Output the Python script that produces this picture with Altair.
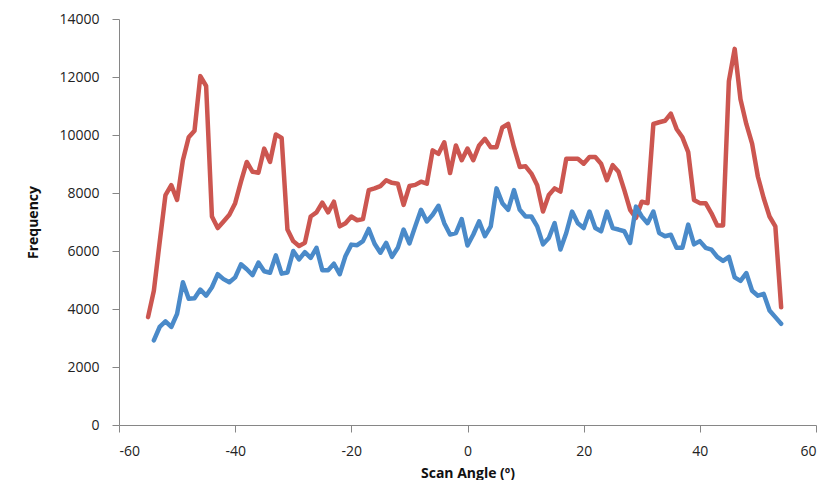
import altair as alt
import pandas as pd

# Scan angle (degrees) and frequency for each series
angles_red = list(range(-55, 55))
freq_red = [
    3720, 4630, 6300, 7930, 8270, 7760, 9130, 9920, 10150, 12030,
    11690, 7190, 6790, 7020, 7250, 7650, 8390, 9070, 8730, 8700,
    9530, 9070, 10020, 9900, 6740, 6340, 6170, 6280, 7190, 7330,
    7670, 7330, 7700, 6850, 6960, 7190, 7060, 7100, 8100, 8160,
    8240, 8440, 8350, 8320, 7590, 8240, 8280, 8390, 8320, 9470,
    9350, 9750, 8690, 9640, 9130, 9530, 9130, 9640, 9870, 9580,
    9580, 10260, 10380, 9580, 8900, 8920, 8670, 8270, 7360, 7930,
    8160, 8050, 9180, 9180, 9180, 9010, 9240, 9240, 9010, 8440,
    8960, 8730, 8100, 7420, 7140, 7700, 7650, 10380, 10440, 10490,
    10740, 10210, 9920, 9410, 7760, 7650, 7650, 7300, 6880, 6880,
    11860, 12970, 11230, 10380, 9700, 8560, 7820, 7190, 6850, 4060,
]

angles_blue = list(range(-54, 55))
freq_blue = [
    2920, 3380, 3570, 3380, 3830, 4920, 4350, 4370, 4670, 4460,
    4750, 5200, 5030, 4920, 5090, 5540, 5370, 5170, 5600, 5300,
    5250, 5850, 5220, 5260, 6000, 5710, 5960, 5760, 6110, 5340,
    5340, 5560, 5200, 5830, 6220, 6200, 6340, 6760, 6250, 5940,
    6280, 5800, 6110, 6740, 6260, 6850, 7420, 7020, 7250, 7560,
    6960, 6570, 6620, 7100, 6190, 6570, 7020, 6510, 6850, 8160,
    7650, 7420, 8100, 7420, 7190, 7190, 6850, 6230, 6450, 6960,
    6050, 6620, 7360, 6960, 6790, 7360, 6790, 6680, 7360, 6790,
    6740, 6680, 6280, 7530, 7190, 6960, 7360, 6620, 6510, 6560,
    6110, 6110, 6910, 6230, 6340, 6110, 6050, 5800, 5660, 5800,
    5090, 4970, 5240, 4630, 4460, 4520, 3950, 3720, 3490,
]

x_ticks = [-60, -40, -20, 0, 20, 40, 60]
y_ticks = [0, 2000, 4000, 6000, 8000, 10000, 12000, 14000]

df = pd.concat([
    pd.DataFrame({"angle": angles_red, "freq": freq_red, "series": "red"}),
    pd.DataFrame({"angle": angles_blue, "freq": freq_blue, "series": "blue"}),
])

FONT = "Open Sans"
AXIS_GRAY = "#868686"

x = alt.X(
    "angle:Q",
    scale=alt.Scale(domain=[-60, 60], nice=False, zero=False),
    axis=alt.Axis(
        values=x_ticks, title="Scan Angle (º)", grid=False,
        labelExpr="'' + datum.value",
        domainColor=AXIS_GRAY, tickColor=AXIS_GRAY, tickSize=7,
        labelPadding=12, titlePadding=8,
    ),
)
y = alt.Y(
    "freq:Q",
    scale=alt.Scale(domain=[0, 14000], nice=False),
    axis=alt.Axis(
        values=y_ticks, title="Frequency", grid=False,
        labelExpr="'' + datum.value",
        domainColor=AXIS_GRAY, tickColor=AXIS_GRAY, tickSize=7,
        labelPadding=13, titlePadding=18,
    ),
)

base = alt.Chart(df)
red = base.transform_filter(alt.datum.series == "red").mark_line(
    color="#CC5650", strokeWidth=4.5, strokeJoin="round", strokeCap="round"
).encode(x=x, y=y, order="angle:Q")
blue = base.transform_filter(alt.datum.series == "blue").mark_line(
    color="#4A8AC9", strokeWidth=4.5, strokeJoin="round", strokeCap="round"
).encode(x=x, y=y, order="angle:Q")

chart = alt.layer(red, blue).properties(
    width=697, height=406,
    autosize=alt.AutoSizeParams(type="none"),
    padding={"left": 111, "top": 11, "right": 8, "bottom": 55},
).configure_view(stroke=None).configure_axis(
    labelFont=FONT, labelFontSize=14, labelColor="#222222",
    titleFont=FONT, titleFontSize=14, titleFontWeight="bold", titleColor="#111111",
)

chart.save("out.html", embed_options={"renderer": "svg", "actions": False})
